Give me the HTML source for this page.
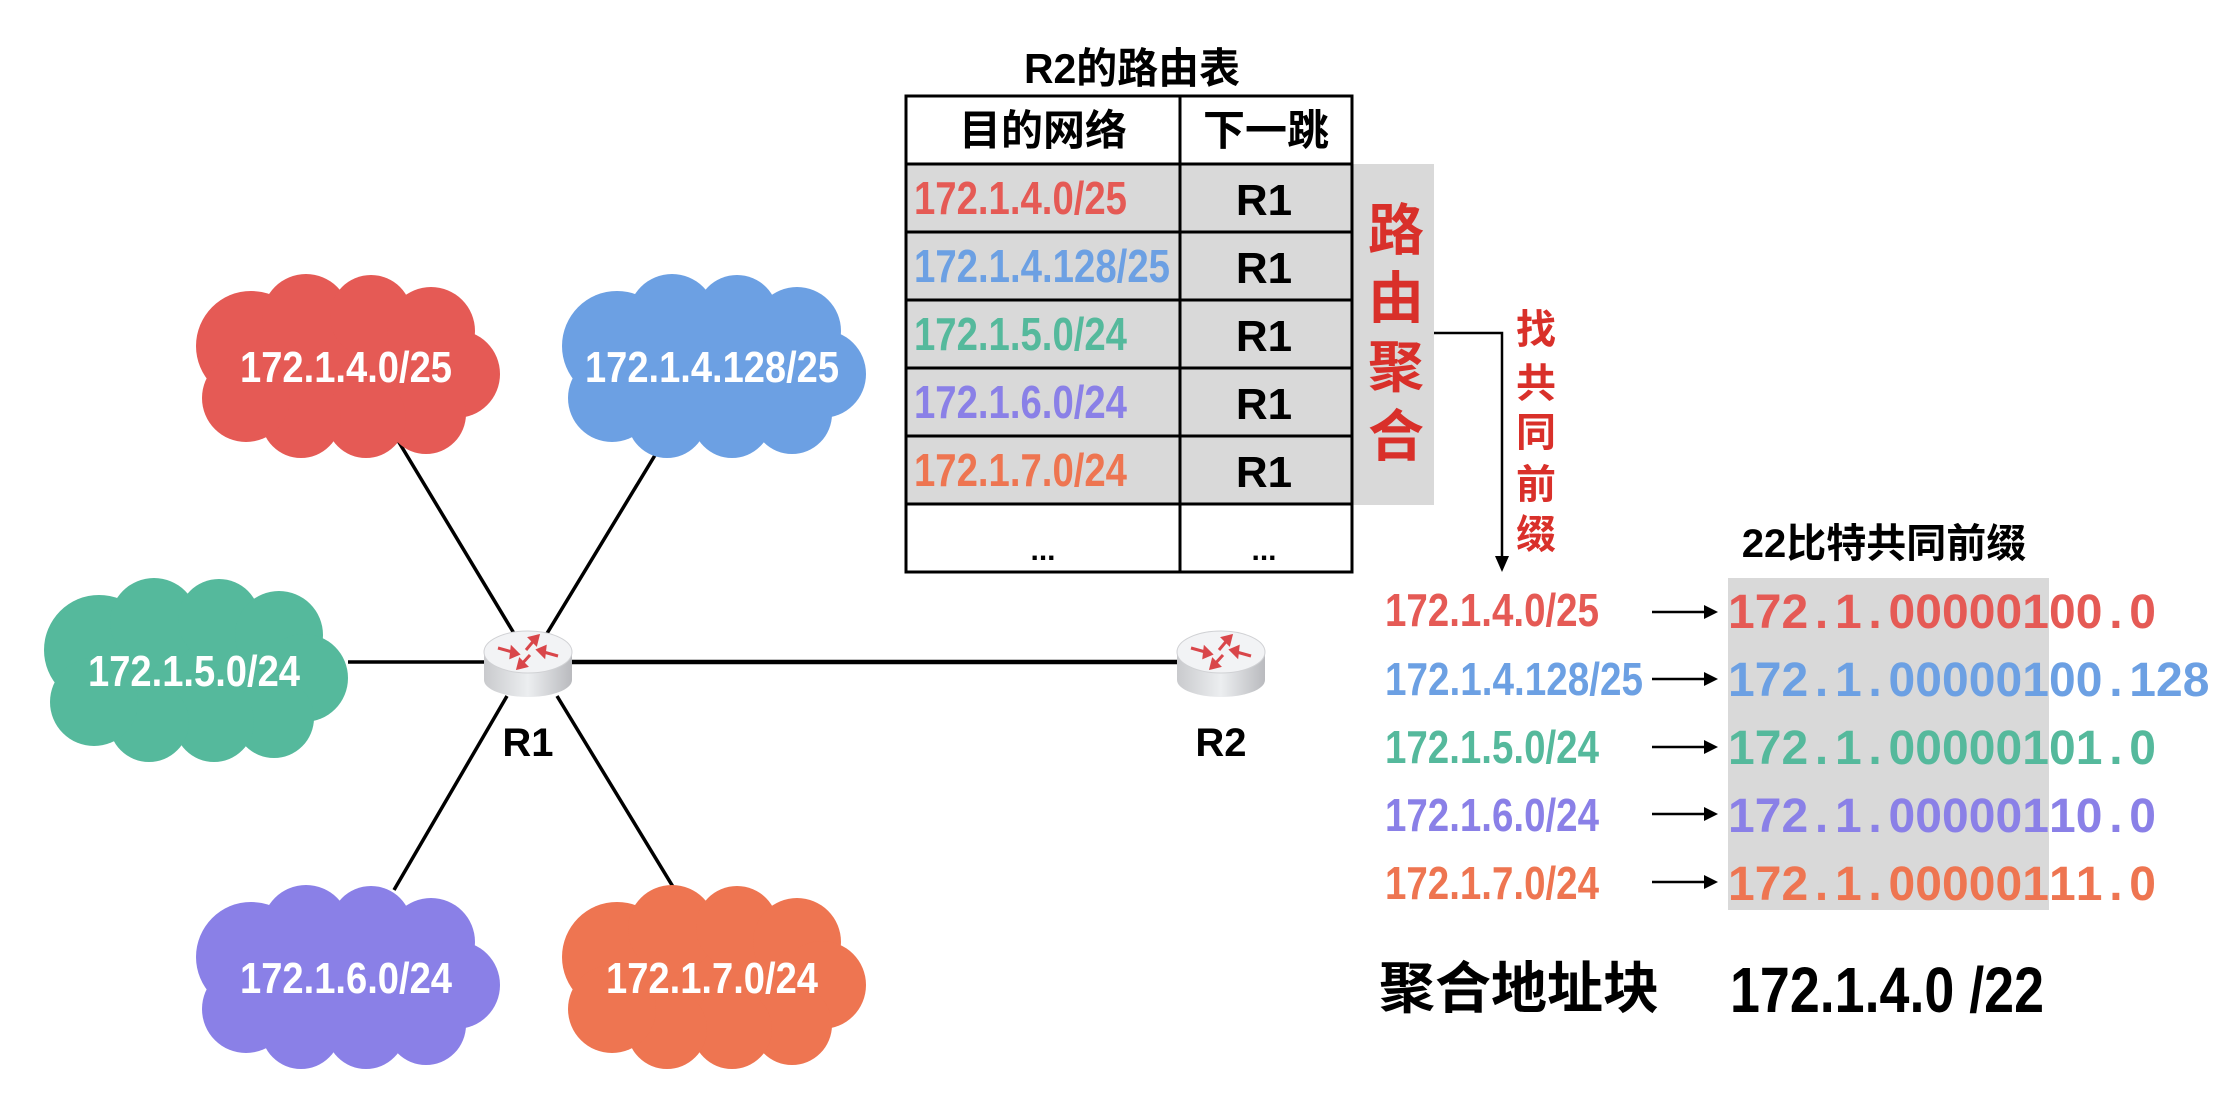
<!DOCTYPE html>
<html><head><meta charset="utf-8"><style>
html,body{margin:0;padding:0;background:#fff;}
svg{display:block;}
text{font-family:"Liberation Sans","Noto Sans CJK SC",sans-serif;font-weight:bold;}
</style></head><body>
<svg width="2238" height="1108" viewBox="0 0 2238 1108" xmlns="http://www.w3.org/2000/svg">
<defs>
<g id="cloud">
<ellipse cx="0" cy="0" rx="120" ry="65"/>
<circle cx="-95" cy="-20" r="55"/>
<circle cx="-40" cy="-48" r="44"/>
<circle cx="25" cy="-50" r="41"/>
<circle cx="85" cy="-35" r="44"/>
<circle cx="110" cy="8" r="44"/>
<circle cx="80" cy="48" r="40"/>
<circle cx="20" cy="52" r="40"/>
<circle cx="-45" cy="52" r="40"/>
<circle cx="-100" cy="32" r="44"/>
</g>
<linearGradient id="rg" x1="0" x2="1" y1="0" y2="0">
<stop offset="0" stop-color="#c9cacd"/><stop offset="0.5" stop-color="#eceef0"/><stop offset="1" stop-color="#b9babe"/>
</linearGradient>
<g id="router">
<rect x="-44" y="-10" width="88" height="28" fill="url(#rg)"/>
<ellipse cx="0" cy="18" rx="44" ry="17" fill="url(#rg)"/>
<ellipse cx="0" cy="-10" rx="44" ry="21" fill="#f2f3f5" stroke="#d0d1d4" stroke-width="1"/>
<g stroke="#d9464a" stroke-width="3" fill="#d9464a">
<line x1="-30" y1="-14" x2="-12" y2="-9"/><polygon points="-10,-8 -16,-14 -17,-5"/>
<line x1="30" y1="-6" x2="12" y2="-11"/><polygon points="10,-12 16,-6 17,-15"/>
<line x1="-2" y1="-12" x2="8" y2="-24"/><polygon points="10,-26 2,-24 8,-18"/>
<line x1="2" y1="-7" x2="-8" y2="4"/><polygon points="-10,6 -2,4 -8,-2"/>
</g>
</g>
</defs>

<g stroke="#000" stroke-width="3.5">
<line x1="394" y1="434" x2="518" y2="640"/>
<line x1="663" y1="442" x2="543" y2="640"/>
<line x1="394" y1="890" x2="507" y2="696"/>
<line x1="678" y1="895" x2="557" y2="696"/>
<line x1="348" y1="662" x2="490" y2="662"/>
<line x1="565" y1="662" x2="1185" y2="662" stroke-width="4.5"/>
</g>

<use href="#cloud" x="346" y="366" fill="#e55a55"/>
<use href="#cloud" x="712" y="366" fill="#6ca0e3"/>
<use href="#cloud" x="194" y="670" fill="#55b99c"/>
<use href="#cloud" x="346" y="977" fill="#8a80e7"/>
<use href="#cloud" x="712" y="977" fill="#ee7551"/>
<g fill="#fff" font-size="44">
<text x="240" y="382" textLength="212" lengthAdjust="spacingAndGlyphs">172.1.4.0/25</text>
<text x="585" y="382" textLength="254" lengthAdjust="spacingAndGlyphs">172.1.4.128/25</text>
<text x="88" y="686" textLength="212" lengthAdjust="spacingAndGlyphs">172.1.5.0/24</text>
<text x="240" y="993" textLength="212" lengthAdjust="spacingAndGlyphs">172.1.6.0/24</text>
<text x="606" y="993" textLength="212" lengthAdjust="spacingAndGlyphs">172.1.7.0/24</text>
</g>

<use href="#router" x="528" y="662"/>
<use href="#router" x="1221" y="662"/>
<text x="528" y="756" font-size="40" text-anchor="middle" fill="#000">R1</text>
<text x="1221" y="756" font-size="40" text-anchor="middle" fill="#000">R2</text>

<text x="1024" y="83" font-size="42" fill="#000" textLength="216" lengthAdjust="spacingAndGlyphs">R2的路由表</text>
<rect x="906" y="164" width="446" height="340" fill="#d9d9d9"/>
<rect x="1352" y="164" width="82" height="341" fill="#d9d9d9"/>
<g stroke="#000" stroke-width="3" fill="none">
<rect x="906" y="96" width="446" height="476"/>
<line x1="1180" y1="96" x2="1180" y2="572"/>
<line x1="906" y1="164" x2="1352" y2="164"/>
<line x1="906" y1="232" x2="1352" y2="232"/>
<line x1="906" y1="300" x2="1352" y2="300"/>
<line x1="906" y1="368" x2="1352" y2="368"/>
<line x1="906" y1="436" x2="1352" y2="436"/>
<line x1="906" y1="504" x2="1352" y2="504"/>
</g>
<text x="1043" y="145" font-size="42" text-anchor="middle" fill="#000">目的网络</text>
<text x="1266" y="145" font-size="42" text-anchor="middle" fill="#000">下一跳</text>
<g font-size="46">
<text x="914" y="214" fill="#e55a55" textLength="213" lengthAdjust="spacingAndGlyphs">172.1.4.0/25</text>
<text x="914" y="282" fill="#6ca0e3" textLength="256" lengthAdjust="spacingAndGlyphs">172.1.4.128/25</text>
<text x="914" y="350" fill="#55b99c" textLength="213" lengthAdjust="spacingAndGlyphs">172.1.5.0/24</text>
<text x="914" y="418" fill="#8a80e7" textLength="213" lengthAdjust="spacingAndGlyphs">172.1.6.0/24</text>
<text x="914" y="486" fill="#ee7551" textLength="213" lengthAdjust="spacingAndGlyphs">172.1.7.0/24</text>
</g>
<g font-size="44" text-anchor="middle" fill="#000">
<text x="1264" y="215">R1</text><text x="1264" y="283">R1</text><text x="1264" y="351">R1</text><text x="1264" y="419">R1</text><text x="1264" y="487">R1</text>
<text x="1043" y="560" font-size="30">...</text><text x="1264" y="560" font-size="30">...</text>
</g>
<g font-size="56" fill="#d9302a" text-anchor="middle">
<text x="1396" y="250">路</text><text x="1396" y="318">由</text><text x="1396" y="387">聚</text><text x="1396" y="456">合</text>
</g>
<polyline points="1434,333 1502,333 1502,558" fill="none" stroke="#000" stroke-width="2.5"/>
<polygon points="1495,556 1509,556 1502,572" fill="#000"/>
<g font-size="40" fill="#d9302a" text-anchor="middle">
<text x="1536" y="343">找</text><text x="1536" y="397">共</text><text x="1536" y="446">同</text><text x="1536" y="498">前</text><text x="1536" y="548">缀</text>
</g>

<text x="1884" y="557" font-size="40" text-anchor="middle" fill="#000">22比特共同前缀</text>
<rect x="1728" y="578" width="321" height="332" fill="#d9d9d9"/>
<g font-size="46">
<text x="1385" y="626" fill="#e55a55" textLength="214" lengthAdjust="spacingAndGlyphs">172.1.4.0/25</text>
<text x="1385" y="695" fill="#6ca0e3" textLength="258" lengthAdjust="spacingAndGlyphs">172.1.4.128/25</text>
<text x="1385" y="763" fill="#55b99c" textLength="214" lengthAdjust="spacingAndGlyphs">172.1.5.0/24</text>
<text x="1385" y="831" fill="#8a80e7" textLength="214" lengthAdjust="spacingAndGlyphs">172.1.6.0/24</text>
<text x="1385" y="899" fill="#ee7551" textLength="214" lengthAdjust="spacingAndGlyphs">172.1.7.0/24</text>
</g>
<g stroke="#000" stroke-width="2.5">
<line x1="1652" y1="612" x2="1706" y2="612"/><line x1="1652" y1="679" x2="1706" y2="679"/><line x1="1652" y1="747" x2="1706" y2="747"/><line x1="1652" y1="814" x2="1706" y2="814"/><line x1="1652" y1="882" x2="1706" y2="882"/>
</g>
<g fill="#000">
<polygon points="1704,605 1718,612 1704,619"/><polygon points="1704,672 1718,679 1704,686"/><polygon points="1704,740 1718,747 1704,754"/><polygon points="1704,807 1718,814 1704,821"/><polygon points="1704,875 1718,882 1704,889"/>
</g>
<g font-size="48" text-anchor="middle">
<text y="628" fill="#e55a55" x="1741.4 1768.1 1794.9 1821.6 1848.4 1875.1 1901.9 1928.6 1955.4 1982.1 2008.9 2035.6 2062.4 2089.1 2115.9 2142.6">172.1.00000100.0</text>
<text y="696" fill="#6ca0e3" x="1741.4 1768.1 1794.9 1821.6 1848.4 1875.1 1901.9 1928.6 1955.4 1982.1 2008.9 2035.6 2062.4 2089.1 2115.9 2142.6 2169.4 2196.1">172.1.00000100.128</text>
<text y="764" fill="#55b99c" x="1741.4 1768.1 1794.9 1821.6 1848.4 1875.1 1901.9 1928.6 1955.4 1982.1 2008.9 2035.6 2062.4 2089.1 2115.9 2142.6">172.1.00000101.0</text>
<text y="832" fill="#8a80e7" x="1741.4 1768.1 1794.9 1821.6 1848.4 1875.1 1901.9 1928.6 1955.4 1982.1 2008.9 2035.6 2062.4 2089.1 2115.9 2142.6">172.1.00000110.0</text>
<text y="900" fill="#ee7551" x="1741.4 1768.1 1794.9 1821.6 1848.4 1875.1 1901.9 1928.6 1955.4 1982.1 2008.9 2035.6 2062.4 2089.1 2115.9 2142.6">172.1.00000111.0</text>
</g>

<text x="1379" y="1008" font-size="56" fill="#000" textLength="280" lengthAdjust="spacingAndGlyphs">聚合地址块</text>
<text x="1730" y="1012" font-size="64" fill="#000" textLength="314" lengthAdjust="spacingAndGlyphs">172.1.4.0 /22</text>
</svg>
</body></html>
